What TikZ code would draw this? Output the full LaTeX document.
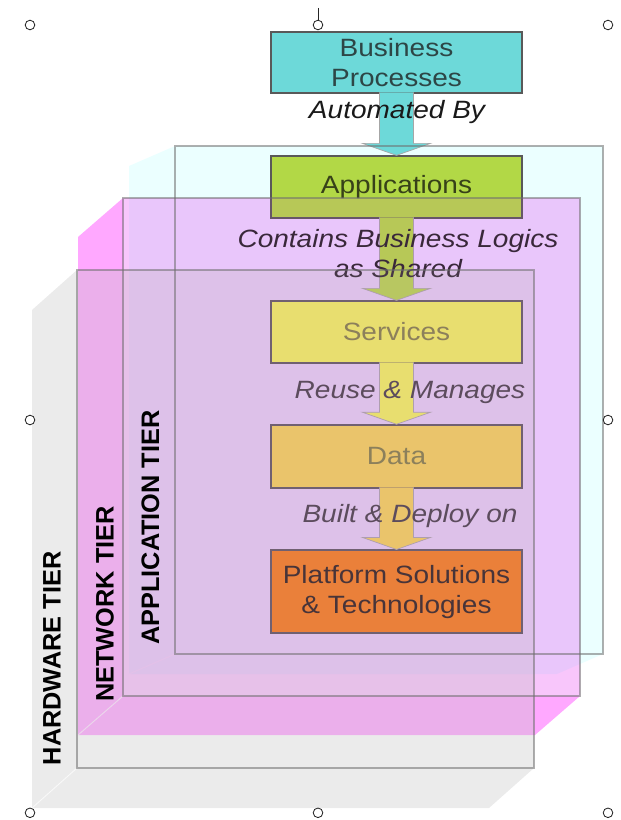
\documentclass[tikz,border=0pt]{standalone}
\usepackage{fontspec}
\setmainfont{Liberation Sans}[FakeStretch=1.12]
\newfontfamily\tierfam{Liberation Sans}
\usetikzlibrary{calc}

\definecolor{bpcyan}{RGB}{109,217,217}
\definecolor{appgreen}{RGB}{178,216,70}
\definecolor{svcyellow}{RGB}{238,245,87}
\definecolor{datagold}{RGB}{240,213,82}
\definecolor{platorange}{RGB}{240,129,21}
\definecolor{bptext}{RGB}{45,70,70}
\definecolor{apptext}{RGB}{55,65,25}
\definecolor{boxtext}{RGB}{124,128,62}
\definecolor{plattext}{RGB}{40,35,20}
\definecolor{appcyan}{RGB}{0,255,255}
\definecolor{netside}{RGB}{255,0,255}
\definecolor{netpink}{RGB}{232,60,242}
\definecolor{hwgray}{RGB}{193,193,193}
\definecolor{tiergray}{RGB}{110,110,110}

\newcommand{\flowfont}{\fontsize{17.8}{21.3}\selectfont}
\newcommand{\flowarrow}[3]{%
  \filldraw[arrowline, fill=#3] ($(#1.south)+(-0.425,0.03)$) -- ($(#2.north)+(-0.425,0.3)$)
    -- ($(#2.north)+(-0.85,0.3)$) -- (#2.north) -- ($(#2.north)+(0.85,0.3)$)
    -- ($(#2.north)+(0.425,0.3)$) -- ($(#1.south)+(0.425,0.03)$);}

\tikzset{
  flowbox/.style={draw=black!65, line width=0.9pt, minimum width=6.275cm, inner sep=0pt, align=center, font=\flowfont},
  flowlabel/.style={font=\flowfont\itshape, align=center, inner sep=0pt},
  tierlabel/.style={rotate=90, inner sep=0pt, font=\tierfam\bfseries\fontsize{18}{22}\selectfont},
  tierline/.style={draw=tiergray, draw opacity=0.55, line width=0.8pt},
  tieredge/.style={white, opacity=0.7, line width=0.6pt},
  handle/.style={draw=black!85, fill=white, line width=0.6pt},
  arrowline/.style={draw=black!35, line width=0.5pt}
}

\begin{document}
\begin{tikzpicture}
  \useasboundingbox (0,0) rectangle (15.5,-20.5);
  % application tier
  \fill[appcyan, fill opacity=0.08] (4.375,-3.65) -- (15.075,-3.65) -- (15.075,-16.35) -- (13.925,-16.85) -- (3.225,-16.85) -- (3.225,-4.15) -- cycle;
  \draw[tieredge] (4.375,-16.35) -- (3.225,-16.85);
  % network tier
  \fill[netside, fill opacity=0.34, even odd rule] (3.075,-4.95) -- (14.5,-4.95) -- (14.5,-17.4) -- (13.375,-18.375) -- (1.95,-18.375) -- (1.95,-5.925) -- cycle (3.075,-4.95) rectangle (14.5,-17.4);
  \fill[netpink, fill opacity=0.21] (3.075,-4.95) rectangle (14.5,-17.4);
  \draw[tieredge] (3.075,-17.4) -- (1.95,-18.375);
  % hardware tier
  \fill[hwgray, fill opacity=0.32, even odd rule] (1.925,-6.75) -- (13.35,-6.75) -- (13.35,-19.2) -- (12.225,-20.2) -- (0.8,-20.2) -- (0.8,-7.75) -- cycle (1.925,-6.75) rectangle (13.35,-19.2);
  \fill[hwgray, fill opacity=0.24] (1.925,-6.75) rectangle (13.35,-19.2);
  \draw[tieredge] (1.925,-19.2) -- (0.8,-20.2);

  % flow
  \node[flowbox, fill=bpcyan, text=bptext, minimum height=1.525cm] (bp) at (9.9125,-1.5625) {Business\\Processes};
  \node[flowbox, fill=appgreen, text=apptext, minimum height=1.55cm] (apps) at (9.9125,-4.675) {Applications};
  \node[flowbox, fill=svcyellow, text=boxtext, minimum height=1.55cm] (services) at (9.9125,-8.3) {Services};
  \node[flowbox, fill=datagold, text=boxtext, minimum height=1.575cm] (data) at (9.9125,-11.41) {Data};
  \node[flowbox, fill=platorange, text=plattext, minimum height=2.075cm] (platform) at (9.9125,-14.79) {Platform Solutions\\\& Technologies};

  \flowarrow{bp}{apps}{bpcyan}
  \flowarrow{apps}{services}{appgreen}
  \flowarrow{services}{data}{svcyellow}
  \flowarrow{data}{platform}{datagold}

  \node[flowlabel, text=black!90] (automated) at (9.925,-2.8) {Automated By};
  \node[flowlabel, text=black!85] (contains) at (9.95,-6.35) {Contains Business Logics\\as Shared};
  \node[flowlabel, text=black!75] (reuse) at (10.25,-9.8) {Reuse \& Manages};
  \node[flowlabel, text=black!75] (built) at (10.25,-12.9) {Built \& Deploy on};

  % tiers over the flow
  \fill[netpink, fill opacity=0.1] (3.075,-4.95) rectangle (14.5,-17.4);
  \fill[hwgray, fill opacity=0.1] (1.925,-6.75) rectangle (13.35,-19.2);
  \draw[tierline] (4.375,-3.65) rectangle (15.075,-16.35);
  \draw[tierline] (3.075,-4.95) rectangle (14.5,-17.4);
  \draw[tierline] (1.925,-6.75) rectangle (13.35,-19.2);

  \node[tierlabel] (hwlabel) at (1.3,-16.46) {HARDWARE TIER};
  \node[tierlabel] (netlabel) at (2.625,-15.1) {NETWORK TIER};
  \node[tierlabel] (applabel) at (3.76,-13.19) {APPLICATION TIER};

  % handles
  \draw[handle] (7.95,-0.2) -- (7.95,-0.505);
  \foreach \hx/\hy in {0.75/-0.625, 7.95/-0.625, 15.2/-0.625, 0.75/-10.5, 15.2/-10.5, 0.75/-20.32, 7.95/-20.32, 15.2/-20.32}
    \draw[handle] (\hx,\hy) circle (0.12);
\end{tikzpicture}
\end{document}
